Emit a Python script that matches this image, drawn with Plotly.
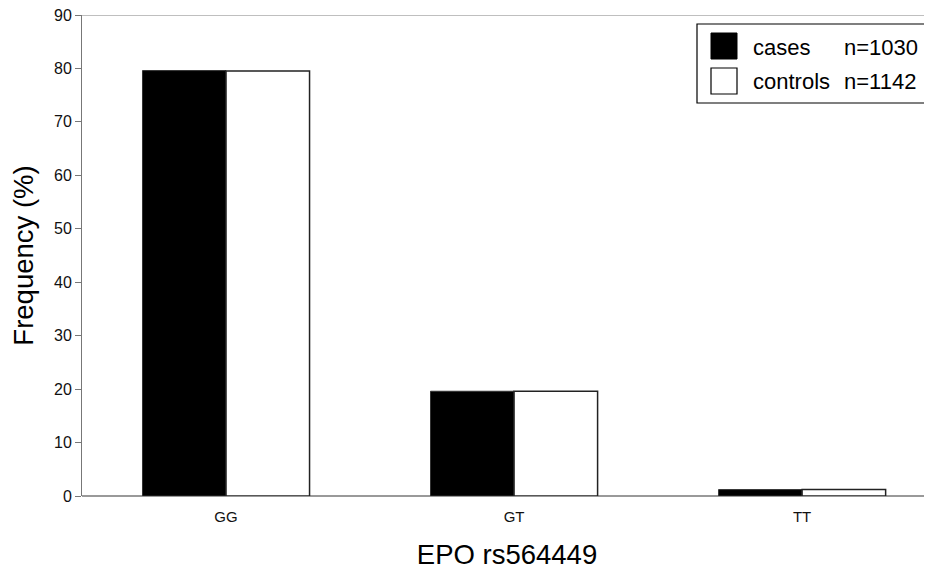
import plotly.graph_objects as go

categories = ["GG", "GT", "TT"]
cases = [79.6, 19.6, 1.2]
controls = [79.5, 19.6, 1.2]
series_names = ["cases", "controls"]
series_n = ["n=1030", "n=1142"]
y_ticks = [0, 10, 20, 30, 40, 50, 60, 70, 80, 90]

# the page body has an 8px margin, so the figure is 8px smaller than the window
OFF = 8
W, H = 932 - OFF, 572 - OFF
L, R, T, B = 82 - OFF, 0, 15 - OFF, 572 - 496
PW, PH = W - L - R, H - T - B


def px(x):
    return (x - OFF - L) / PW


def py(y):
    return 1 - (y - OFF - T) / PH


font = "Liberation Sans, Arial, sans-serif"

fig = go.Figure()
fig.add_trace(go.Bar(x=categories, y=cases, name=series_names[0], showlegend=False,
                     marker=dict(color="black", line=dict(color="#333", width=1))))
fig.add_trace(go.Bar(x=categories, y=controls, name=series_names[1], showlegend=False,
                     marker=dict(color="white", line=dict(color="#222", width=1.5))))

shapes = [
    dict(type="line", xref="paper", yref="y", x0=0, x1=1, y0=90, y1=90,
         line=dict(color="#aaa", width=1.5)),
    # legend box
    dict(type="rect", xref="paper", yref="paper", x0=px(697), x1=px(929), y0=py(103), y1=py(24),
         line=dict(color="black", width=1.2), fillcolor="white", layer="above"),
    dict(type="rect", xref="paper", yref="paper", x0=px(711), x1=px(737), y0=py(59), y1=py(33),
         line=dict(color="black", width=1), fillcolor="black", layer="above"),
    dict(type="rect", xref="paper", yref="paper", x0=px(711), x1=px(737), y0=py(94), y1=py(68),
         line=dict(color="black", width=1.2), fillcolor="white", layer="above"),
]
annotations = []
for i, (nm, n) in enumerate(zip(series_names, series_n)):
    yc = py(48 + 33 * i)
    annotations.append(dict(text=nm, xref="paper", yref="paper", x=px(751), y=yc,
                            xanchor="left", yanchor="middle", showarrow=False,
                            font=dict(size=22, family=font, color="black")))
    annotations.append(dict(text=n, xref="paper", yref="paper", x=px(842), y=yc,
                            xanchor="left", yanchor="middle", showarrow=False,
                            font=dict(size=22, family=font, color="black")))

fig.update_layout(
    width=W, height=H,
    margin=dict(l=L, r=R, t=T, b=B),
    paper_bgcolor="white", plot_bgcolor="white",
    barmode="group", bargap=0.42, bargroupgap=0,
    font=dict(family=font, color="black"),
    showlegend=False,
    xaxis=dict(range=[-0.5, 2.451], showline=False, ticks="", showgrid=False,
               automargin=False, tickfont=dict(size=15, color="#111"), fixedrange=True,
               ticklabelstandoff=10,
               title=dict(text="EPO rs564449", font=dict(size=27.5), standoff=20)),
    yaxis=dict(range=[0, 90], tickvals=y_ticks, showgrid=False, zeroline=True,
               zerolinecolor="#999", zerolinewidth=1.5, automargin=False,
               ticklabeloverflow="allow",
               showline=True, linecolor="#777", linewidth=1, ticks="outside",
               ticklen=6, tickcolor="#777", tickfont=dict(size=16, color="#111"),
               title=dict(text="Frequency (%)", font=dict(size=27.5), standoff=16)),
    shapes=shapes,
    annotations=annotations,
)
fig.write_html("out.html")
